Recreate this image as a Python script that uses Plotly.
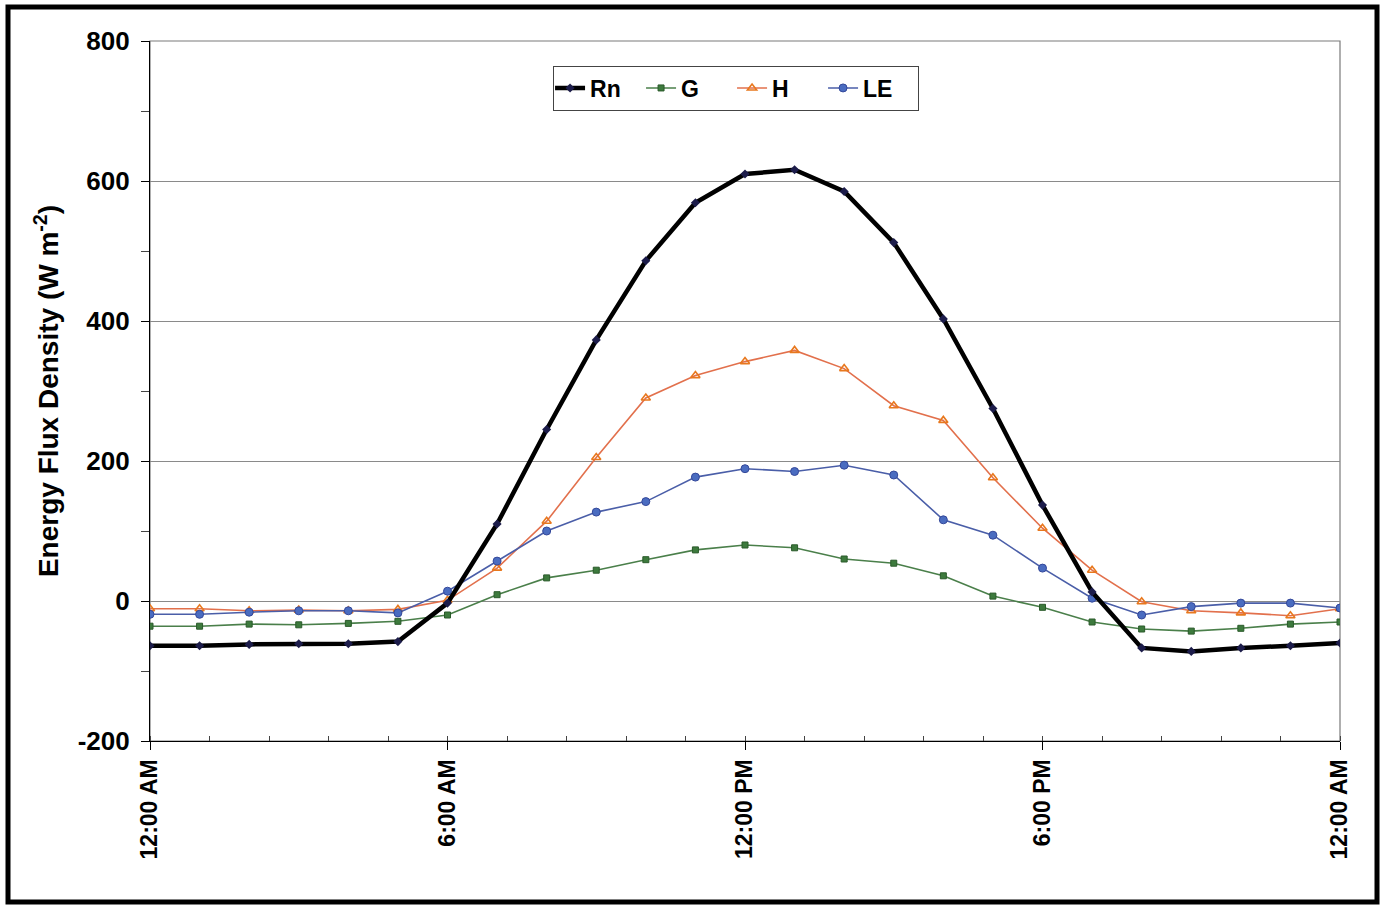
import plotly.graph_objects as go

hours = list(range(25))
rn = [-64, -64, -62, -61, -61, -58, -3, 110, 245, 373, 486, 569, 610, 616, 585, 512,
      403, 275, 137, 13, -67, -72, -67, -64, -60]
g = [-36, -36, -33, -34, -32, -29, -20, 9, 33, 44, 59, 73, 80, 76, 60, 54,
     36, 7, -9, -30, -40, -43, -39, -33, -30]
h = [-11, -11, -14, -13, -14, -12, 1, 47, 114, 205, 290, 322, 342, 358, 332, 279,
     258, 176, 104, 44, -1, -14, -17, -21, -11]
le = [-19, -19, -16, -14, -14, -17, 14, 57, 100, 127, 142, 177, 189, 185, 194, 180,
      116, 94, 47, 4, -20, -8, -3, -3, -10]

tick_hours = [0, 6, 12, 18, 24]
tick_text = ["12:00 AM", "6:00 AM", "12:00 PM", "6:00 PM", "12:00 AM"]
y_ticks = [-200, 0, 200, 400, 600, 800]
y_tick_text = ["-200", "0", "200", "400", "600", "800"]

FONT = "Liberation Sans, Arial, sans-serif"

fig = go.Figure()
fig.add_trace(go.Scatter(x=hours, y=g, name="G", mode="lines+markers", legendrank=2,
                         line=dict(color="#4a7f4a", width=1.6),
                         marker=dict(symbol="square", size=6, color="#3d7a3d",
                                     line=dict(color="#2a5a2a", width=1))))
fig.add_trace(go.Scatter(x=hours, y=h, name="H", mode="lines+markers", legendrank=3,
                         line=dict(color="#e2704c", width=1.6),
                         marker=dict(symbol="triangle-up-open", size=8, color="#e8781e",
                                     line=dict(width=1.6))))
fig.add_trace(go.Scatter(x=hours, y=le, name="LE", mode="lines+markers", legendrank=4,
                         line=dict(color="#4a5ea8", width=1.6),
                         marker=dict(symbol="circle", size=8, color="#4a6cc0",
                                     line=dict(color="#34489a", width=1))))
fig.add_trace(go.Scatter(x=hours, y=rn, name="Rn", mode="lines+markers", legendrank=1,
                         line=dict(color="#000000", width=4.5),
                         marker=dict(symbol="diamond", size=7, color="#1c1c4a")))

fig.update_layout(
    width=1383, height=905, autosize=False,
    margin=dict(l=150, r=43, t=41, b=164),
    paper_bgcolor="white", plot_bgcolor="white",
    font=dict(family=FONT, size=24, color="black"),
    showlegend=True,
    legend=dict(orientation="h", x=0.3387, y=0.965, xanchor="left", yanchor="top",
                bgcolor="white", bordercolor="#444444", borderwidth=1,
                font=dict(family=FONT, size=23, color="black", weight="bold"),
                itemwidth=30, tracegroupgap=0, entrywidth=50,
                indentation=-4),
    xaxis=dict(range=[0, 24], tickmode="array", tickvals=tick_hours, ticktext=tick_text,
               tickangle=-90, showgrid=False, zeroline=False,
               showline=True, linecolor="black", linewidth=1.2, mirror=False,
               ticks="outside", ticklen=8, tickcolor="black",
               tickfont=dict(family=FONT, size=23, color="black", weight="bold"),
               minor=dict(dtick=1.2, tick0=0, ticks="inside", ticklen=5, tickcolor="#444444",
                          showgrid=False)),
    yaxis=dict(range=[-200, 800], tickmode="array", tickvals=y_ticks, ticktext=y_tick_text,
               showgrid=True, gridcolor="#8a8a8a", gridwidth=1, zeroline=False,
               showline=True, linecolor="black", linewidth=1.2,
               ticks="outside", ticklen=8, tickcolor="black", ticklabelstandoff=6,
               tickfont=dict(family=FONT, size=26, color="black", weight="bold"),
               minor=dict(dtick=100, ticks="outside", ticklen=8, tickcolor="#444444",
                          showgrid=False),
               title=dict(text="Energy Flux Density (W m<sup>-2</sup>)", standoff=10,
                          font=dict(family=FONT, size=28, color="black", weight="bold"))),
)

# plot-area frame (top and right edges in gray)
fig.add_shape(type="rect", xref="paper", yref="paper", x0=0, y0=0, x1=1, y1=1,
              line=dict(color="#7a7a7a", width=1.2), layer="below")
# thick outer border of the whole picture
fig.add_shape(type="rect", xref="paper", yref="paper",
              x0=(8 - 150) / 1190, x1=(1377 - 150) / 1190,
              y0=(741 - 902) / 700, y1=(741 - 7) / 700,
              line=dict(color="black", width=5))

fig.write_html("out.html", config={"displayModeBar": False},
               post_script="document.body.style.margin='0';")
